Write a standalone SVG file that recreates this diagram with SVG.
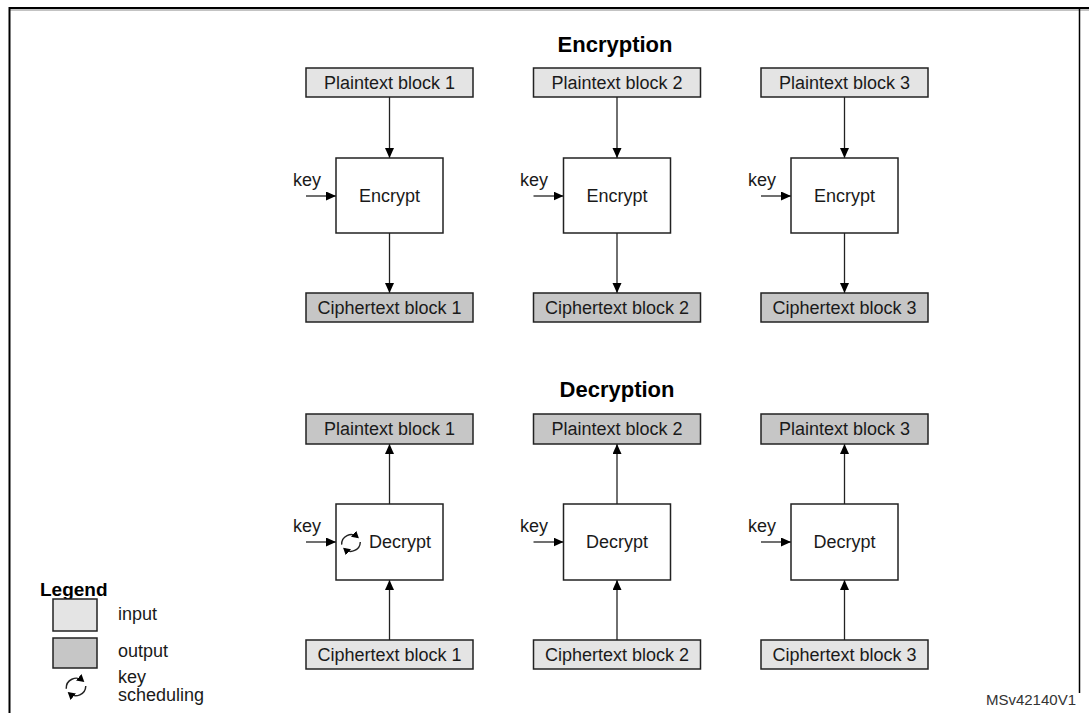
<svg xmlns="http://www.w3.org/2000/svg" width="1089" height="713" viewBox="0 0 1089 713">
<style>
.t{font-family:"Liberation Sans",Arial,sans-serif;font-size:18px;fill:#1a1a1a}
.c{text-anchor:middle}
.h{font-family:"Liberation Sans",Arial,sans-serif;font-weight:bold;fill:#000}
.in{fill:#e4e4e4;stroke:#222;stroke-width:1.5}
.out{fill:#c6c6c6;stroke:#222;stroke-width:1.5}
.proc{fill:#fff;stroke:#222;stroke-width:1.5}
.ln{stroke:#222;stroke-width:1.3;fill:none;marker-end:url(#ah)}
.ks{stroke:#222;stroke-width:1.4;fill:none;marker-end:url(#sh)}
</style>
<defs>
<marker id="ah" markerUnits="userSpaceOnUse" markerWidth="10" markerHeight="10" refX="10" refY="4.5" orient="auto">
<path d="M0,0 L10,4.5 L0,9 Z" fill="#000"/>
</marker>
<marker id="sh" markerUnits="userSpaceOnUse" markerWidth="9" markerHeight="9" refX="5" refY="4" orient="auto">
<path d="M0,0 L7,4 L0,8 Z" fill="#000"/>
</marker>
<g id="keysched">
<path class="ks" d="M-9.3,1.6 A9.5,9.5 0 0,1 6.4,-6"/>
<path class="ks" d="M9.3,-1 A9.5,9.5 0 0,1 -6.4,6"/>
</g>
</defs>
<rect width="1089" height="713" fill="#fff"/>
<g id="frame">
<line x1="9" y1="8" x2="1089" y2="8" stroke="#000" stroke-width="2"/>
<line x1="9" y1="10" x2="1089" y2="10" stroke="#888" stroke-width="1"/>
<line x1="9.5" y1="7" x2="9.5" y2="713" stroke="#000" stroke-width="2"/>
<line x1="1079.5" y1="7" x2="1079.5" y2="693" stroke="#000" stroke-width="1.5"/>
</g>
<text class="h c" x="615" y="52" font-size="22">Encryption</text>
<text class="h c" x="617" y="397" font-size="22">Decryption</text>
<g id="connectors">
<path class="ln" d="M389.5,97 V158"/>
<path class="ln" d="M389.5,233 V293"/>
<path class="ln" d="M617,97 V158"/>
<path class="ln" d="M617,233 V293"/>
<path class="ln" d="M844.5,97 V158"/>
<path class="ln" d="M844.5,233 V293"/>
<path class="ln" d="M306,196 H336"/>
<path class="ln" d="M533.5,196 H563.5"/>
<path class="ln" d="M761,196 H791"/>
<path class="ln" d="M389.5,640 V580"/>
<path class="ln" d="M389.5,504 V444"/>
<path class="ln" d="M617,640 V580"/>
<path class="ln" d="M617,504 V444"/>
<path class="ln" d="M844.5,640 V580"/>
<path class="ln" d="M844.5,504 V444"/>
<path class="ln" d="M306,542 H336"/>
<path class="ln" d="M533.5,542 H563.5"/>
<path class="ln" d="M761,542 H791"/>
</g>
<g id="key-labels">
<text class="t" x="293" y="186">key</text>
<text class="t" x="520" y="186">key</text>
<text class="t" x="748" y="186">key</text>
<text class="t" x="293" y="532">key</text>
<text class="t" x="520" y="532">key</text>
<text class="t" x="748" y="532">key</text>
</g>
<g id="enc-pt1"><rect class="in" x="306" y="68" width="167" height="29"/><text class="t c" x="389.5" y="89">Plaintext block 1</text></g>
<g id="enc-pt2"><rect class="in" x="533.5" y="68" width="167" height="29"/><text class="t c" x="617" y="89">Plaintext block 2</text></g>
<g id="enc-pt3"><rect class="in" x="761" y="68" width="167" height="29"/><text class="t c" x="844.5" y="89">Plaintext block 3</text></g>
<g id="enc1"><rect class="proc" x="336" y="158" width="107" height="75"/><text class="t c" x="389.5" y="202">Encrypt</text></g>
<g id="enc2"><rect class="proc" x="563.5" y="158" width="107" height="75"/><text class="t c" x="617" y="202">Encrypt</text></g>
<g id="enc3"><rect class="proc" x="791" y="158" width="107" height="75"/><text class="t c" x="844.5" y="202">Encrypt</text></g>
<g id="enc-ct1"><rect class="out" x="306" y="293" width="167" height="29"/><text class="t c" x="389.5" y="314">Ciphertext block 1</text></g>
<g id="enc-ct2"><rect class="out" x="533.5" y="293" width="167" height="29"/><text class="t c" x="617" y="314">Ciphertext block 2</text></g>
<g id="enc-ct3"><rect class="out" x="761" y="293" width="167" height="29"/><text class="t c" x="844.5" y="314">Ciphertext block 3</text></g>
<g id="dec-pt1"><rect class="out" x="306" y="414" width="167" height="30"/><text class="t c" x="389.5" y="435">Plaintext block 1</text></g>
<g id="dec-pt2"><rect class="out" x="533.5" y="414" width="167" height="30"/><text class="t c" x="617" y="435">Plaintext block 2</text></g>
<g id="dec-pt3"><rect class="out" x="761" y="414" width="167" height="30"/><text class="t c" x="844.5" y="435">Plaintext block 3</text></g>
<g id="dec1"><rect class="proc" x="336" y="504" width="107" height="76"/><use href="#keysched" transform="translate(351,543)"/><text class="t" x="369" y="548">Decrypt</text></g>
<g id="dec2"><rect class="proc" x="563.5" y="504" width="107" height="76"/><text class="t c" x="617" y="548">Decrypt</text></g>
<g id="dec3"><rect class="proc" x="791" y="504" width="107" height="76"/><text class="t c" x="844.5" y="548">Decrypt</text></g>
<g id="dec-ct1"><rect class="in" x="306" y="640" width="167" height="29"/><text class="t c" x="389.5" y="661">Ciphertext block 1</text></g>
<g id="dec-ct2"><rect class="in" x="533.5" y="640" width="167" height="29"/><text class="t c" x="617" y="661">Ciphertext block 2</text></g>
<g id="dec-ct3"><rect class="in" x="761" y="640" width="167" height="29"/><text class="t c" x="844.5" y="661">Ciphertext block 3</text></g>
<g id="legend">
<text class="h" x="40" y="596" font-size="19">Legend</text>
</g>
<g id="legend-input"><rect class="in" x="53" y="599" width="44" height="32"/><text class="t" x="118" y="620">input</text></g>
<g id="legend-output"><rect class="out" x="53" y="638" width="44" height="30"/><text class="t" x="118" y="657">output</text></g>
<g id="legend-ks"><use href="#keysched" transform="translate(76,687) scale(1.05)"/><text class="t" x="118" y="683">key</text><text class="t" x="118" y="701">scheduling</text></g>
<text x="1076" y="705" font-family="Liberation Sans,Arial,sans-serif" font-size="15" fill="#333" text-anchor="end">MSv42140V1</text>
</svg>
